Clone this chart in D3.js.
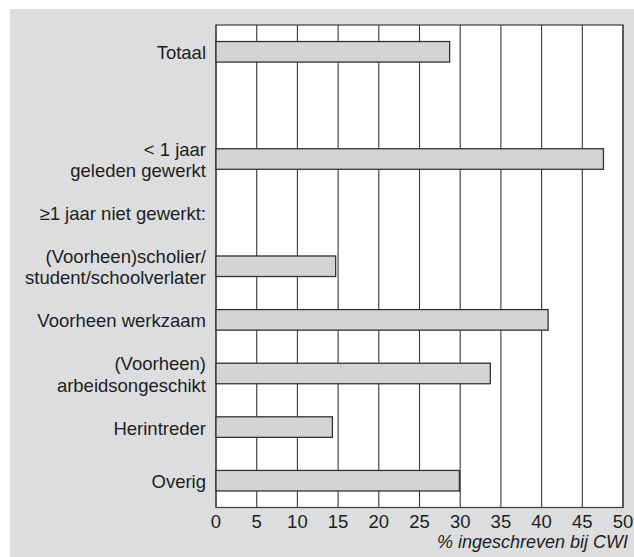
<!DOCTYPE html>
<html><head><meta charset="utf-8">
<script src="https://cdn.jsdelivr.net/npm/d3@7"></script>
<style>body{margin:0;background:#fff}svg{display:block}text{font-family:"Liberation Sans",Arial,sans-serif;fill:#1e1e1e}</style>
</head><body>
<svg id="c" width="634" height="557"></svg>
<script>
const categories = ["Totaal", "", "< 1 jaar|geleden gewerkt", "≥1 jaar niet gewerkt:", "(Voorheen)scholier/|student/schoolverlater", "Voorheen werkzaam", "(Voorheen)|arbeidsongeschikt", "Herintreder", "Overig"];
const values = [28.7, null, 47.6, null, 14.7, 40.8, 33.7, 14.3, 29.9];
const xTicks = [0, 5, 10, 15, 20, 25, 30, 35, 40, 45, 50];
const xTitle = "% ingeschreven bij CWI";

const svg = d3.select("#c");
svg.append("rect").attr("x", 10).attr("y", 9).attr("width", 630).attr("height", 560).attr("fill", "#dcdddf");

const L = 216, R = 623, T = 25, B = 507.5;
const x = d3.scaleLinear().domain([0, 50]).range([L, R]);
const y = d3.scaleBand().domain(d3.range(categories.length)).range([T, B]).paddingInner(0.617).paddingOuter(0.3085);

svg.append("rect").attr("x", L).attr("y", T).attr("width", R - L).attr("height", B - T).attr("fill", "#fff");

svg.append("g").selectAll("line").data(xTicks).join("line")
  .attr("x1", d => x(d)).attr("x2", d => x(d)).attr("y1", T).attr("y2", B)
  .attr("stroke", "#3a3a3a").attr("stroke-width", 1.1);

svg.append("rect").attr("x", L).attr("y", T).attr("width", R - L).attr("height", B - T)
  .attr("fill", "none").attr("stroke", "#3a3a3a").attr("stroke-width", 1.2);

const bars = categories.map((c, i) => ({i, v: values[i]})).filter(d => d.v != null);
svg.append("g").selectAll("rect").data(bars).join("rect")
  .attr("x", x(0)).attr("y", d => y(d.i)).attr("width", d => x(d.v) - x(0)).attr("height", y.bandwidth())
  .attr("fill", "#d3d4d6").attr("stroke", "#333").attr("stroke-width", 1.3);

const lab = svg.append("g").attr("font-size", 18.5).attr("text-anchor", "end");
categories.forEach((c, i) => {
  if (!c) return;
  const lines = c.split("|");
  const cy = y(i) + y.bandwidth() / 2;
  const lh = 21.5;
  lines.forEach((t, k) => {
    lab.append("text").attr("x", 206).attr("y", cy + (k - (lines.length - 1) / 2) * lh + 1)
      .attr("dy", "0.35em").text(t);
  });
});

svg.append("g").attr("font-size", 18.5).attr("text-anchor", "middle").selectAll("text").data(xTicks).join("text")
  .attr("x", d => x(d)).attr("y", 522).attr("dy", "0.35em").text(d => d);

svg.append("text").attr("x", 628).attr("y", 542).attr("dy", "0.35em").attr("text-anchor", "end")
  .attr("font-size", 18).attr("font-style", "italic").text(xTitle);
</script>
</body></html>
